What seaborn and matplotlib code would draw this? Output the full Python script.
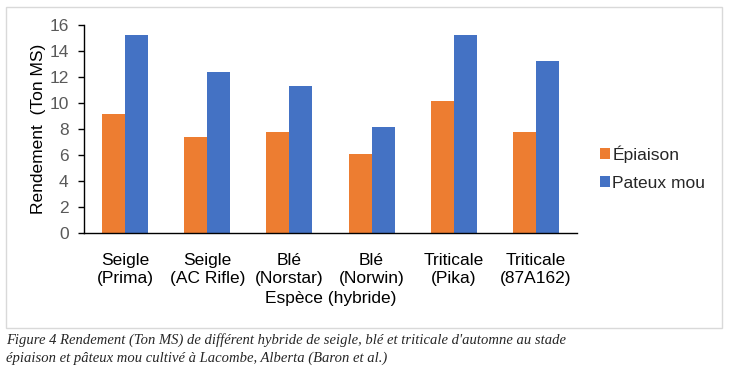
import matplotlib
matplotlib.use("Agg")
import matplotlib.pyplot as plt
import seaborn as sns
import pandas as pd
from matplotlib.patches import Rectangle

categories = ["Seigle\n(Prima)", "Seigle\n(AC Rifle)", "Blé\n(Norstar)", "Blé\n(Norwin)", "Triticale\n(Pika)", "Triticale\n(87A162)"]
epiaison = [9.2, 7.4, 7.8, 6.1, 10.2, 7.8]
pateux_mou = [15.2, 12.4, 11.3, 8.2, 15.2, 13.2]
series_names = ["Épiaison", "Pateux mou"]
yticks = [0, 2, 4, 6, 8, 10, 12, 14, 16]

df = pd.DataFrame({
    "cat": categories * 2,
    "val": epiaison + pateux_mou,
    "serie": [series_names[0]] * len(categories) + [series_names[1]] * len(categories),
})

sns.set_theme(style="white")
plt.rcParams["font.family"] = ["Liberation Sans", "DejaVu Sans"]

fig = plt.figure(figsize=(7.4, 3.76), dpi=100)
fig.patch.set_facecolor("white")

# chart border
fig.patches.append(Rectangle((6/740, 48/376), 716/740, 321/376, transform=fig.transFigure,
                             fill=False, edgecolor="#d9d9d9", linewidth=1.0))

ax = fig.add_axes([84.3/740, (376-233.3)/376, (576.7-84.3)/740, (233.3-25)/376])
sns.barplot(data=df, x="cat", y="val", hue="serie", palette=["#ED7D31", "#4472C4"],
            width=0.56, saturation=1, ax=ax, errorbar=None, linewidth=0)

ax.set_ylim(0, 16)
ax.set_yticks(yticks)
ax.set_yticklabels([str(t) for t in yticks])
ax.set_xlim(-0.5, len(categories) - 0.5)
for s in ["top", "right"]:
    ax.spines[s].set_visible(False)
ax.spines["left"].set_color("black")
ax.spines["bottom"].set_color("black")
ax.spines["left"].set_linewidth(1.0)
ax.spines["bottom"].set_linewidth(1.0)
ax.tick_params(axis="y", which="both", left=True, length=4.3, width=1, color="black",
               labelsize=12.5, labelcolor="#595959", pad=7)
ax.tick_params(axis="x", bottom=False, labelsize=12.5, labelcolor="black", pad=8)
for lab in ax.get_xticklabels():
    lab.set_linespacing(1.25)
ax.set_xlabel("Espèce (hybride)", fontsize=12.5, color="black", labelpad=4)
ax.set_ylabel("Rendement  (Ton MS)", fontsize=12.5, color="black", labelpad=2.5)

leg = ax.legend(loc="center left", bbox_to_anchor=((600 - 84.3) / 492.4, (233.3 - 168) / 208.3),
                frameon=False, borderpad=0, borderaxespad=0,
                fontsize=12.5, handlelength=0.55, handleheight=0.55, handletextpad=0.15,
                labelspacing=0.75)

serif = ["Liberation Serif", "DejaVu Serif"]
fig.text(6/740, 1 - 340/376,
         "Figure 4 Rendement (Ton MS) de différent hybride de seigle, blé et triticale d'automne au stade",
         family=serif, style="italic", fontsize=10.5, va="center", ha="left")
fig.text(6/740, 1 - 358/376,
         "épiaison et pâteux mou cultivé à Lacombe, Alberta (Baron et al.)",
         family=serif, style="italic", fontsize=10.5, va="center", ha="left")

fig.savefig("out.png", dpi=100)
